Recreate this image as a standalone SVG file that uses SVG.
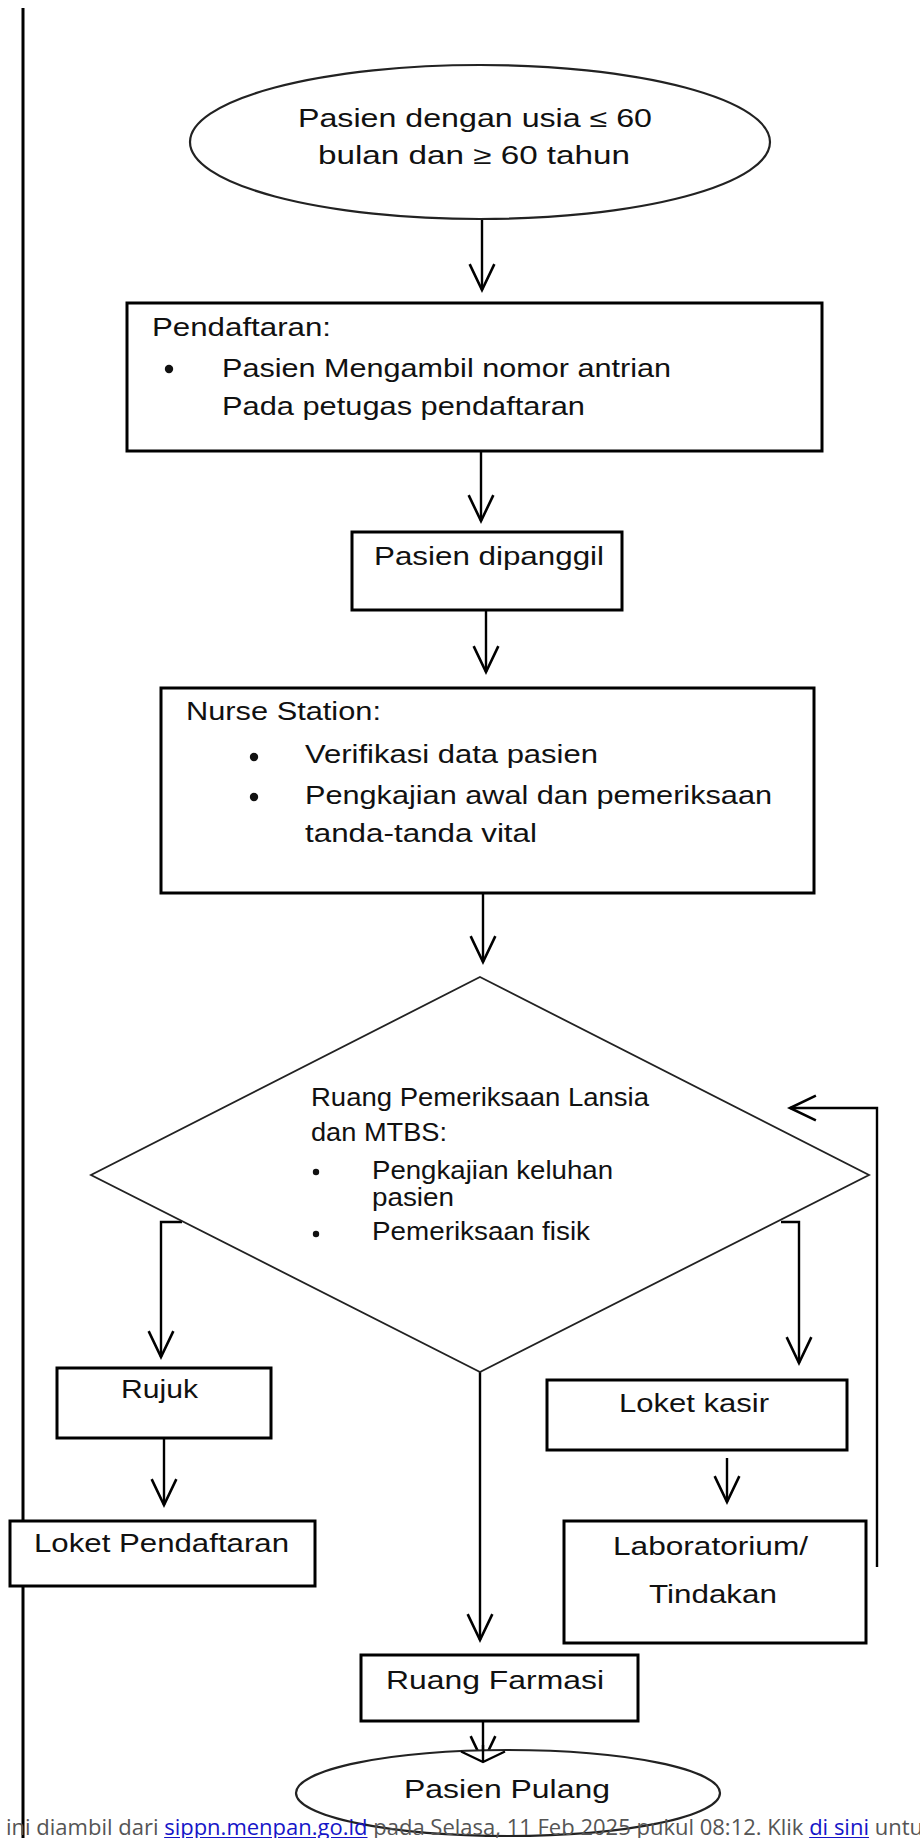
<svg xmlns="http://www.w3.org/2000/svg" width="920" height="1838" viewBox="0 0 920 1838">
<style>
.box{fill:#fff;stroke:#000;stroke-width:3}
.t{font-family:"Liberation Sans",Arial,sans-serif;font-size:25px;fill:#111}
.c{fill:none;stroke:#000;stroke-width:2.4}
.b{fill:#111}
.f{font-family:"Open Sans","Noto Sans",sans-serif;font-size:22px;fill:#555}
.lk{fill:#1515c8;text-decoration:underline}
</style>
<defs>
<marker id="a" markerUnits="userSpaceOnUse" markerWidth="40" markerHeight="40" viewBox="-30 -15 34 30" refX="0" refY="0" orient="auto" overflow="visible">
<path d="M-22,-10.5 L0,0 L-22,10.5" fill="none" stroke="#000" stroke-width="2.2"/>
</marker>
</defs>
<rect x="0" y="0" width="920" height="1838" fill="#fff"/>
<line x1="23" y1="8" x2="23" y2="1838" stroke="#000" stroke-width="3"/>
<g id="connectors">
<path class="c" d="M482,220 V290" marker-end="url(#a)"/>
<path class="c" d="M481,451 V521" marker-end="url(#a)"/>
<path class="c" d="M486,610 V672" marker-end="url(#a)"/>
<path class="c" d="M483,893 V962" marker-end="url(#a)"/>
<path class="c" d="M182,1222 H161 V1357" marker-end="url(#a)"/>
<path class="c" d="M781,1222 H799 V1363" marker-end="url(#a)"/>
<path class="c" d="M480,1372 V1640" marker-end="url(#a)"/>
<path class="c" d="M164,1438 V1505" marker-end="url(#a)"/>
<path class="c" d="M727,1458 V1502" marker-end="url(#a)"/>
<path class="c" d="M877,1567 V1108 H790" marker-end="url(#a)"/>
<path class="c" d="M483,1721 V1762" marker-end="url(#a)"/>
</g>
<g id="start">
<ellipse cx="480" cy="142" rx="290" ry="77" fill="#fff" stroke="#222" stroke-width="2.2"/>
<text class="t" x="298" y="127" textLength="354" lengthAdjust="spacingAndGlyphs">Pasien dengan usia ≤ 60</text>
<text class="t" x="318" y="164" textLength="312" lengthAdjust="spacingAndGlyphs">bulan dan ≥ 60 tahun</text>
</g>
<g id="pendaftaran">
<rect class="box" x="127" y="303" width="695" height="148"/>
<text class="t" x="152" y="336" textLength="179" lengthAdjust="spacingAndGlyphs">Pendaftaran:</text>
<circle class="b" cx="169" cy="369" r="4.2"/>
<text class="t" x="222" y="377" textLength="449" lengthAdjust="spacingAndGlyphs">Pasien Mengambil nomor antrian</text>
<text class="t" x="222" y="415" textLength="363" lengthAdjust="spacingAndGlyphs">Pada petugas pendaftaran</text>
</g>
<g id="dipanggil">
<rect class="box" x="352" y="532" width="270" height="78"/>
<text class="t" x="374" y="565" textLength="230" lengthAdjust="spacingAndGlyphs">Pasien dipanggil</text>
</g>
<g id="nurse">
<rect class="box" x="161" y="688" width="653" height="205"/>
<text class="t" x="186" y="720" textLength="195" lengthAdjust="spacingAndGlyphs">Nurse Station:</text>
<circle class="b" cx="254" cy="757" r="4.2"/>
<text class="t" x="305" y="763" textLength="293" lengthAdjust="spacingAndGlyphs">Verifikasi data pasien</text>
<circle class="b" cx="254" cy="797" r="4.2"/>
<text class="t" x="305" y="804" textLength="467" lengthAdjust="spacingAndGlyphs">Pengkajian awal dan pemeriksaan</text>
<text class="t" x="305" y="842" textLength="232" lengthAdjust="spacingAndGlyphs">tanda-tanda vital</text>
</g>
<g id="pemeriksaan">
<polygon points="480,977 869,1175 480,1372 91,1175" fill="#fff" stroke="#222" stroke-width="1.8"/>
<text class="t" x="311" y="1106" textLength="338" lengthAdjust="spacingAndGlyphs">Ruang Pemeriksaan Lansia</text>
<text class="t" x="311" y="1141" textLength="136" lengthAdjust="spacingAndGlyphs">dan MTBS:</text>
<circle class="b" cx="316" cy="1172" r="3.2"/>
<text class="t" x="372" y="1179" textLength="241" lengthAdjust="spacingAndGlyphs">Pengkajian keluhan</text>
<text class="t" x="372" y="1206" textLength="82" lengthAdjust="spacingAndGlyphs">pasien</text>
<circle class="b" cx="316" cy="1234" r="3.2"/>
<text class="t" x="372" y="1240" textLength="218" lengthAdjust="spacingAndGlyphs">Pemeriksaan fisik</text>
</g>
<g id="rujuk">
<rect class="box" x="57" y="1368" width="214" height="70"/>
<text class="t" x="121" y="1398" textLength="77" lengthAdjust="spacingAndGlyphs">Rujuk</text>
</g>
<g id="kasir">
<rect class="box" x="547" y="1380" width="300" height="70"/>
<text class="t" x="619" y="1412" textLength="150" lengthAdjust="spacingAndGlyphs">Loket kasir</text>
</g>
<g id="loket-pendaftaran">
<rect class="box" x="10" y="1521" width="305" height="65"/>
<text class="t" x="34" y="1552" textLength="255" lengthAdjust="spacingAndGlyphs">Loket Pendaftaran</text>
</g>
<g id="laboratorium">
<rect class="box" x="564" y="1521" width="302" height="122"/>
<text class="t" x="613" y="1555" textLength="195" lengthAdjust="spacingAndGlyphs">Laboratorium/</text>
<text class="t" x="649" y="1603" textLength="128" lengthAdjust="spacingAndGlyphs">Tindakan</text>
</g>
<g id="farmasi">
<rect class="box" x="361" y="1655" width="277" height="66"/>
<text class="t" x="386" y="1689" textLength="218" lengthAdjust="spacingAndGlyphs">Ruang Farmasi</text>
</g>
<g id="pulang">
<ellipse cx="508" cy="1793" rx="212" ry="43" fill="#fff" stroke="#222" stroke-width="2.2"/>
<path class="c" d="M483,1745 V1762"/>
<path d="M461,1751.5 L483,1762 L505,1751.5" fill="none" stroke="#000" stroke-width="2.2"/>
<text class="t" x="404" y="1798" textLength="206" lengthAdjust="spacingAndGlyphs">Pasien Pulang</text>
</g>
<text class="f" x="6" y="1835">ini diambil dari <tspan class="lk">sippn.menpan.go.id</tspan> pada Selasa, 11 Feb 2025 pukul 08:12. Klik <tspan class="lk">di sini</tspan> untu</text>
</svg>
